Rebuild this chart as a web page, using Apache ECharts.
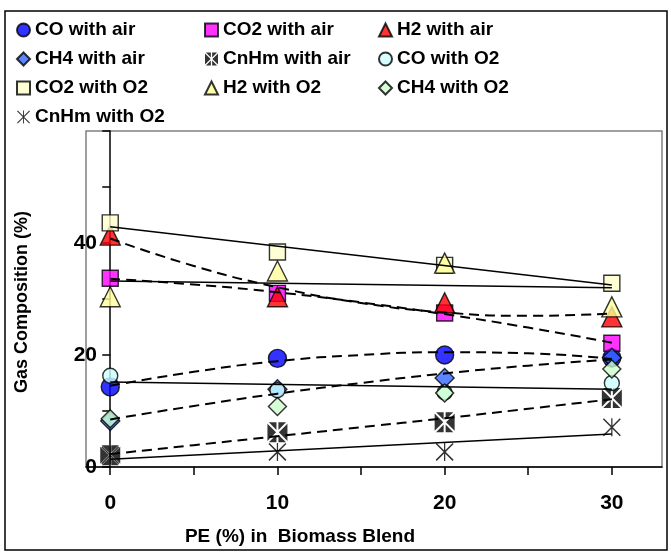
<!DOCTYPE html>
<html>
<head>
<meta charset="utf-8">
<script src="https://cdn.jsdelivr.net/npm/echarts@6/dist/echarts.min.js"></script>
<style>
html,body{margin:0;padding:0;background:#fff;}
#chart{width:671px;height:556px;}
</style>
</head>
<body>
<div id="chart"></div>
<script>
// ---- data ----
var peShare = [0, 10, 20, 30];
var xTickValues = [0, 5, 10, 15, 20, 25, 30];
var xLabelValues = [0, 10, 20, 30];

var coAir   = [14.3, 19.4, 20.0, 19.5];
var co2Air  = [33.7, 31.0, 27.5, 22.1];
var h2Air   = [41.4, 30.4, 29.3, 26.8];
var ch4Air  = [8.2, 13.9, 15.9, 19.5];
var cnhmAir = [2.1, 6.2, 8.0, 12.3];
var coO2    = [16.3, 13.7, 13.3, 15.0];
var co2O2   = [43.6, 38.4, 36.0, 32.8];
var h2O2    = [30.4, 35.0, 36.4, 28.6];
var ch4O2   = [8.6, 10.8, 13.2, 17.5];
var cnhmO2  = [2.1, 2.7, 2.7, 7.1];

// dashed curves (air) read at PE = 0,5,10,15,20,25,30
var curveX       = [0, 5, 10, 15, 20, 25, 30];
var coAirCurve   = [14.5, 17.0, 18.9, 20.0, 20.5, 20.3, 19.3];
var co2AirCurve  = [33.6, 32.6, 31.2, 29.4, 27.3, 24.9, 22.2];
var h2AirCurve   = [40.8, 35.9, 32.1, 29.3, 27.6, 27.0, 27.4];
var ch4AirCurve  = [8.5, 10.9, 13.1, 15.0, 16.7, 18.1, 19.2];
var cnhmAirCurve = [2.3, 3.9, 5.5, 7.1, 8.7, 10.4, 12.1];

// solid straight lines (O2) read at PE = 0 and 30
var lineX        = [0, 30];
var co2O2Line    = [42.9, 32.5];
var h2O2Line     = [33.2, 32.0];
var coO2Line     = [15.2, 13.9];
var cnhmO2Line   = [1.4, 5.9];

var yLabelValues = [0, 20, 40];

// ---- helpers ----
function pairs(xs, ys) { return xs.map(function (x, i) { return [x, ys[i]]; }); }

var FONT = "'Liberation Sans', Arial, sans-serif";
var BOXX = 'path://M0,1.4L8.6,10L0,18.6Z M20,1.4L11.4,10L20,18.6Z M1.4,0L9,0L9,7.6Z M11,0L18.6,0L11,7.6Z M1.4,20L9,20L9,12.4Z M11,20L18.6,20L11,12.4Z';
var STAR = 'path://M0,1.2L1.2,0L20,18.8L18.8,20Z M18.8,0L20,1.2L1.2,20L0,18.8Z M9.3,0L10.7,0L10.7,20L9.3,20Z';

function pts(name, data, symbol, size, color, border) {
  return {
    name: name, type: 'scatter', data: pairs(peShare, data),
    symbol: symbol, symbolSize: size, z: 3,
    itemStyle: border === false ? { color: color, borderWidth: 0 } :
      { color: color, borderColor: '#000', borderWidth: 1.4 }
  };
}
function dashed(data) {
  return {
    type: 'line', data: pairs(curveX, data), smooth: true, showSymbol: false, symbol: 'none',
    silent: true, z: 5, lineStyle: { color: '#000', width: 2, type: [10, 6] }
  };
}
function solid(data) {
  return {
    type: 'line', data: pairs(lineX, data), showSymbol: false, symbol: 'none',
    silent: true, z: 5, lineStyle: { color: '#000', width: 1.5 }
  };
}

var chart = echarts.init(document.getElementById('chart'));
var legendBase = {
  orient: 'vertical', itemWidth: 13, itemHeight: 13, itemGap: 9, selectedMode: false,
  textStyle: { fontFamily: FONT, fontWeight: 'bold', fontSize: 19, color: '#000', lineHeight: 20 }
};
chart.setOption({
  animation: false,
  backgroundColor: '#fff',
  graphic: [
    { type: 'rect', shape: { x: 5, y: 11, width: 662, height: 539 },
      style: { fill: 'none', stroke: '#000', lineWidth: 1.5 }, z: -10 },
    { type: 'text', x: 22, y: 302, rotation: Math.PI / 2,
      style: { text: 'Gas Composition (%)', fontFamily: FONT, fontWeight: 'bold', fontSize: 18,
               fill: '#000', align: 'center', verticalAlign: 'middle' } },
    { type: 'text', x: 300, y: 537,
      style: { text: 'PE (%) in  Biomass Blend', fontFamily: FONT, fontWeight: 'bold', fontSize: 19,
               fill: '#000', align: 'center', verticalAlign: 'middle' } }
  ],
  legend: [
    Object.assign({}, legendBase, { left: 11, top: 15,
      data: ['CO with air', 'CH4 with air', 'CO2 with O2', 'CnHm with O2'] }),
    Object.assign({}, legendBase, { left: 199, top: 15,
      data: ['CO2 with air', 'CnHm with air', 'H2 with O2'] }),
    Object.assign({}, legendBase, { left: 373, top: 15,
      data: ['H2 with air', 'CO with O2', 'CH4 with O2'] })
  ],
  grid: { left: 86, right: 9, top: 131, bottom: 89, show: true, borderColor: '#808080',
          borderWidth: 1.5, backgroundColor: '#fff' },
  xAxis: {
    type: 'value', min: -1.45, max: 33,
    splitLine: { show: false },
    axisLine: { lineStyle: { color: '#000', width: 1.5 } },
    axisTick: { customValues: xTickValues, length: 8, lineStyle: { color: '#000', width: 1.5 } },
    axisLabel: { customValues: xLabelValues, margin: 26, fontFamily: FONT, fontWeight: 'bold',
                 fontSize: 21, color: '#000' }
  },
  yAxis: {
    type: 'value', min: 0, max: 60, interval: 10,
    splitLine: { show: false },
    axisLine: { onZero: true, lineStyle: { color: '#000', width: 1.5 } },
    axisTick: { length: 8, lineStyle: { color: '#000', width: 1.5 } },
    axisLabel: { margin: -11, fontFamily: FONT, fontWeight: 'bold', fontSize: 21, color: '#000',
                 formatter: function (v) { return yLabelValues.indexOf(v) >= 0 ? String(v) : ''; } }
  },
  series: [
    pts('CO with air', coAir, 'circle', 18, '#0000FF'),
    pts('CO2 with air', co2Air, 'rect', 16, '#FF00FF'),
    pts('H2 with air', h2Air, 'triangle', 20, '#FF0000'),
    pts('CH4 with air', ch4Air, 'diamond', 19, '#3366FF'),
    pts('CnHm with air', cnhmAir, BOXX, 20, '#000000', false),
    pts('CO with O2', coO2, 'circle', 15, '#CCFFFF'),
    pts('CO2 with O2', co2O2, 'rect', 16, '#FFFFCC'),
    pts('H2 with O2', h2O2, 'triangle', 20, '#FFFF99'),
    pts('CH4 with O2', ch4O2, 'diamond', 18, '#CCFFCC'),
    pts('CnHm with O2', cnhmO2, STAR, 18, '#000000', false),
    dashed(coAirCurve), dashed(co2AirCurve), dashed(h2AirCurve), dashed(ch4AirCurve), dashed(cnhmAirCurve),
    solid(co2O2Line), solid(h2O2Line), solid(coO2Line), solid(cnhmO2Line)
  ]
});
</script>
</body>
</html>
